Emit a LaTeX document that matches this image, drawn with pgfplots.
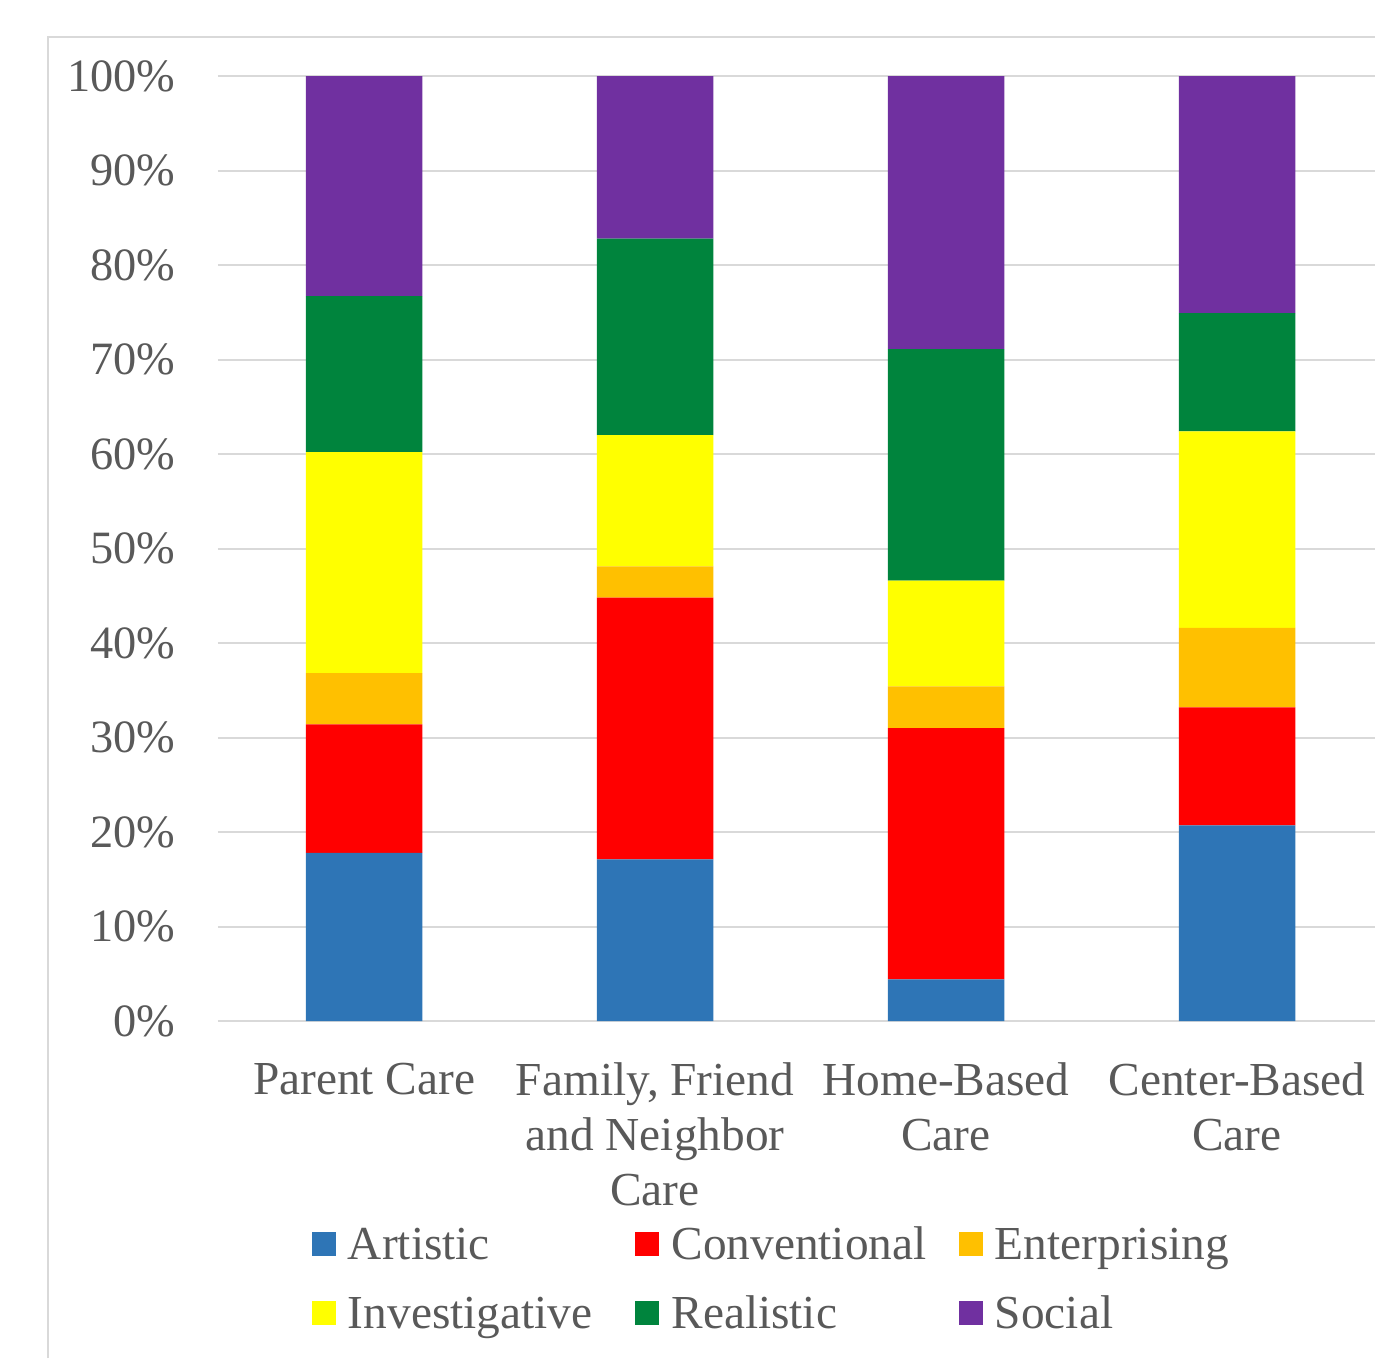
\documentclass[border=0pt]{standalone}
\usepackage{pgfplots}
\usepackage{pgfplotstable}
\pgfplotsset{compat=1.18}
\usepackage{fontspec}
\setmainfont{Liberation Serif}
\definecolor{gridc}{HTML}{D9D9D9}
\definecolor{txt}{HTML}{595959}
\definecolor{cA}{HTML}{2E75B6}
\definecolor{cC}{HTML}{FF0000}
\definecolor{cE}{HTML}{FFC000}
\definecolor{cI}{HTML}{FFFF00}
\definecolor{cR}{HTML}{00843D}
\definecolor{cS}{HTML}{7030A0}

\pgfplotstableread{
x A C E I R S
0 17.8 13.6 5.4 23.4 16.5 23.3
1 17.1 27.7 3.3 13.9 20.8 17.2
2 4.4 26.6 4.4 11.2 24.5 28.9
3 20.7 12.5 8.4 20.8 12.5 25.1
}\datatable

\begin{document}
\begin{tikzpicture}
\begin{axis}[
  at={(0pt,0pt)}, anchor=south west,
  scale only axis, width=347.1pt, height=283.5pt,
  ybar stacked, bar width=0.4,
  xmin=-0.502, xmax=3.474, ymin=0, ymax=100,
  xtick={0,1,2,3},
  xticklabels={Parent Care,{Family, Friend\\and Neighbor\\Care},{Home-Based\\Care},{Center-Based\\Care}},
  ytick={0,10,20,30,40,50,60,70,80,90,100},
  yticklabels={0\%,10\%,20\%,30\%,40\%,50\%,60\%,70\%,80\%,90\%,100\%},
  ymajorgrids, major grid style={draw=gridc, line width=0.6pt},
  axis line style={draw=none},
  major tick length=0pt,
  yticklabel style={font=\fontsize{13.9}{16}\selectfont, text=txt, anchor=east, inner xsep=0pt, xshift=-12.6pt},
  xticklabel style={font=\fontsize{14.2}{16.5}\selectfont, text=txt, align=center, anchor=north, inner sep=0pt, yshift=-12.3pt},
  legend columns=3,
  legend cell align=left,
  legend style={at={(rel axis cs:0,0)}, anchor=north west, xshift=28.2pt, yshift=-59.4pt,
    draw=none, fill=none, inner sep=0pt, outer sep=0pt,
    font=\fontsize{14.2}{16.5}\selectfont, text=txt,
    column sep=0pt, row sep=4.7pt,
    /tikz/every odd column/.append style={column sep=3.6pt},
    cells={anchor=base west},
    nodes={text width=86.25pt, align=left, inner sep=0pt, text height=12pt, text depth=4pt}},
]
\addplot[fill=cA, draw=none, legend image code/.code={\fill[cA] (0pt,1pt) rectangle (7.2pt,8.2pt);}] table[x=x,y=A]{\datatable};
\addlegendentry{Artistic}
\addplot[fill=cC, draw=none, legend image code/.code={\fill[cC] (0pt,1pt) rectangle (7.2pt,8.2pt);}] table[x=x,y=C]{\datatable};
\addlegendentry{Conventional}
\addplot[fill=cE, draw=none, legend image code/.code={\fill[cE] (0pt,1pt) rectangle (7.2pt,8.2pt);}] table[x=x,y=E]{\datatable};
\addlegendentry{Enterprising}
\addplot[fill=cI, draw=none, legend image code/.code={\fill[cI] (0pt,1pt) rectangle (7.2pt,8.2pt);}] table[x=x,y=I]{\datatable};
\addlegendentry{Investigative}
\addplot[fill=cR, draw=none, legend image code/.code={\fill[cR] (0pt,1pt) rectangle (7.2pt,8.2pt);}] table[x=x,y=R]{\datatable};
\addlegendentry{Realistic}
\addplot[fill=cS, draw=none, legend image code/.code={\fill[cS] (0pt,1pt) rectangle (7.2pt,8.2pt);}] table[x=x,y=S]{\datatable};
\addlegendentry{Social}
\coordinate (o) at (rel axis cs:0,0);
\end{axis}
\pgfresetboundingbox
\path[use as bounding box] (o) ++(-65.4pt,-101.1pt) rectangle ++(412.5pt,407.4pt);
\draw[gridc, line width=0.6pt] (o) ++(-51pt,-101.1pt) -- ++(0pt,396.3pt) -- ++(398.1pt,0pt);
\end{tikzpicture}
\end{document}
